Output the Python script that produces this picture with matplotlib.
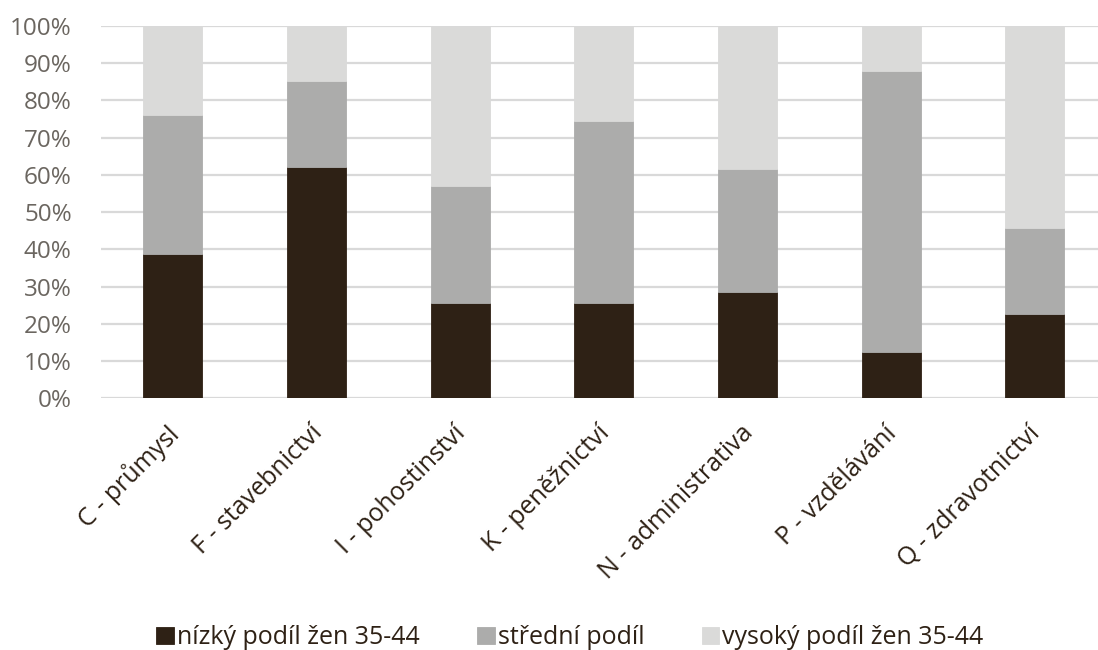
import matplotlib.pyplot as plt
import matplotlib.transforms as mtransforms
import numpy as np
from matplotlib.ticker import PercentFormatter

categories = ['C - průmysl', 'F - stavebnictví', 'I - pohostinství', 'K - peněžnictví',
              'N - administrativa', 'P - vzdělávání', 'Q - zdravotnictví']
nizky = [38.8, 62.1, 25.5, 25.7, 28.6, 12.3, 22.6]
stredni = [37.3, 23.2, 31.4, 48.8, 32.9, 75.6, 23.2]
vysoky = [23.9, 14.7, 43.1, 25.5, 38.5, 12.1, 54.2]
series_names = ['nízký podíl žen 35-44', 'střední podíl', 'vysoký podíl žen 35-44']

colors = ['#2e2115', '#acacab', '#dadad9']
text_gray = '#6b6660'
label_dark = '#2e2115'

plt.rcParams['font.family'] = ['Open Sans', 'DejaVu Sans']

fig = plt.figure(figsize=(10.98, 6.5), dpi=100)
ax = fig.add_axes((0.092, 0.3872, 0.916, 0.5732))
ax.patch.set_visible(False)

x = np.arange(len(categories))
bottom = np.zeros(len(categories))
for vals, col, name in zip([nizky, stredni, vysoky], colors, series_names):
    ax.bar(x, vals, width=0.41, bottom=bottom, color=col, label=name,
           edgecolor=col, linewidth=0.6, zorder=3)
    bottom += np.array(vals)

ax.set_xlim(-0.5, len(categories) - 0.5)
ax.set_ylim(0, 100)
ax.set_yticks(np.arange(0, 101, 10))
ax.yaxis.set_major_formatter(PercentFormatter(decimals=0))
ax.grid(axis='y', color='#d9d9d9', linewidth=1.6, zorder=0)
for s in ax.spines.values():
    s.set_visible(False)
ax.tick_params(axis='both', length=0)
ax.tick_params(axis='y', labelsize=17.5, labelcolor=text_gray, pad=21)

ax.set_xticks(x)
ax.set_xticklabels(categories, rotation=45, ha='right', rotation_mode='anchor',
                   fontsize=18, color=label_dark)
ax.tick_params(axis='x', pad=16)
# nudge the rotated labels a little to the left
shift = mtransforms.ScaledTranslation(-7 / 100, 0, fig.dpi_scale_trans)
for lbl in ax.get_xticklabels():
    lbl.set_transform(lbl.get_transform() + shift)

leg = fig.legend(loc='center', bbox_to_anchor=(0.519, 0.019), ncol=3,
                 frameon=False, fontsize=18, handlelength=0.7, handleheight=0.7,
                 handletextpad=0.12, columnspacing=2.3)
for t in leg.get_texts():
    t.set_color(label_dark)

fig.savefig('out.png', dpi=100)
